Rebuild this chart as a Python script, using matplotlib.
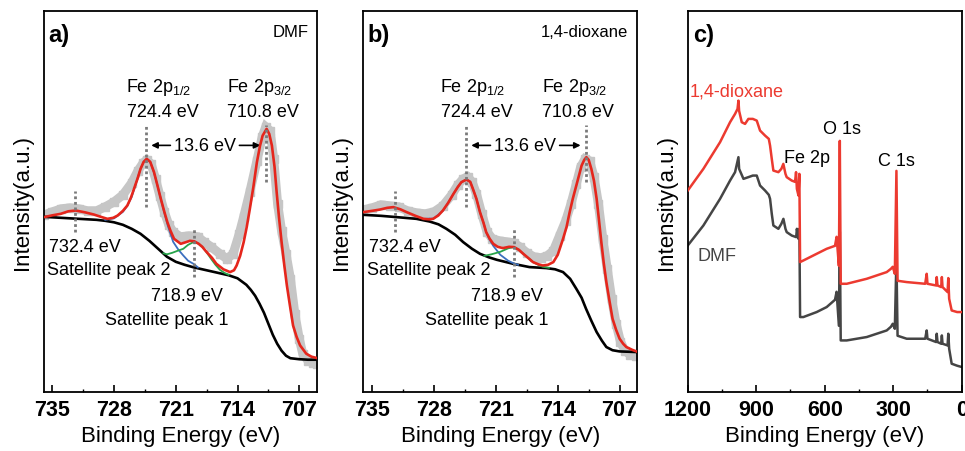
import matplotlib
matplotlib.use('Agg')
import matplotlib.pyplot as plt

plt.rcParams['font.family'] = ['Liberation Sans', 'DejaVu Sans']
plt.rcParams['mathtext.fontset'] = 'custom'
plt.rcParams['mathtext.rm'] = 'Liberation Sans'
plt.rcParams['mathtext.it'] = 'Liberation Sans:italic'
plt.rcParams['mathtext.bf'] = 'Liberation Sans:bold'

# ---------------- data: panel a (DMF, Fe 2p) ----------------
a_raw_e = [735.9, 735.0, 734.0, 733.0, 732.0, 731.0, 730.0, 729.0, 728.0, 727.0, 726.0, 725.3, 724.7,
           724.3, 723.8, 723.3, 722.8, 722.3, 721.8, 721.3, 720.5, 719.5, 718.5, 717.8, 717.0, 716.0,
           715.2, 714.5, 713.8, 713.3, 712.6, 711.8, 711.2, 710.8, 710.3, 709.9, 709.45, 709.0, 708.5,
           708.0, 707.5, 707.0, 706.6, 706.0, 705.4, 705.0]
a_raw_i = [177, 180, 183, 184, 183, 181, 181, 185, 190, 197, 209, 221, 229,
           232, 228, 213, 196, 180, 167, 160, 155, 156, 155, 150, 145, 138,
           133, 138, 158, 175, 200, 231, 255, 265, 261, 233, 188, 161, 138,
           113, 78, 53, 38, 31, 29, 28]
a_bg_e = [736.0, 734.0, 732.0, 730.0, 729.0, 728.0, 727.0, 726.0, 725.0, 724.0, 723.0, 722.0, 721.0,
          720.0, 719.0, 718.0, 717.0, 716.0, 715.0, 714.0, 713.0, 712.5, 712.0, 711.5, 711.0, 710.5,
          710.0, 709.5, 709.0, 708.5, 708.0, 707.0, 706.0, 705.0]
a_bg_i = [175, 174, 173, 172, 171, 169.5, 167, 163, 158, 151, 143, 135, 130,
          127, 124.5, 122.5, 120.5, 118.5, 116.5, 113.5, 107, 102, 96, 88, 79, 68,
          57, 48, 41, 36, 33.5, 32.5, 32, 32]
a_fit_e = [735.94, 735.0, 734.05, 733.2, 732.35, 731.3, 730.3, 729.5, 728.76, 728.1, 727.6, 727.0,
           726.5, 726.1, 725.74, 725.35, 725.0, 724.65, 724.3, 723.9, 723.47, 723.1, 722.7, 722.3,
           721.96, 721.6, 721.2, 720.44, 719.9, 719.4, 718.9, 718.4, 718.0, 717.5, 716.9, 716.4,
           715.6, 714.85, 714.4, 714.1, 713.7, 713.3, 712.95, 712.6, 712.2, 711.8, 711.45, 711.15,
           710.7, 710.4, 710.1, 709.8, 709.56, 709.3, 709.0, 708.7, 708.4, 708.05, 707.7, 707.3,
           706.9, 706.2, 705.6, 705.0]
a_fit_i = [174.7, 176.5, 178, 180.5, 181.3, 179.5, 177.3, 175, 173, 174, 176.3, 181,
           186.3, 194, 203, 213, 223, 230, 233, 230, 219.7, 207, 193, 180,
           169.7, 161, 153, 148, 149.5, 151, 150.5, 148, 145, 139.7, 134, 128,
           122.5, 119.7, 121.5, 126.3, 136, 149.7, 165, 183, 205, 229.7, 246, 256.3,
           263, 258, 246.3, 225, 199.7, 175, 149.7, 127, 106.3, 86, 66.3, 55,
           46.3, 38, 35, 33.7]
a_p12_e = [729.0, 728.0, 727.0, 726.5, 726.0, 725.5, 725.0, 724.6, 724.3, 723.9, 723.5, 723.1, 722.7,
           722.3, 721.9, 721.3, 720.7, 720.15, 719.6, 719.0, 718.5]
a_p12_i = [172, 173.5, 180, 186, 195, 209, 223, 230.5, 233, 230, 220, 207, 193,
           179, 166, 150, 142, 136.3, 131, 128, 124.5]
a_sat1_e = [722.4, 722.0, 721.4, 720.8, 720.15, 719.6, 719.0, 718.5, 718.0, 717.5, 717.0, 716.5,
            716.0, 715.5, 715.0]
a_sat1_i = [138.5, 137.5, 139, 141, 143, 147, 149.7, 148.5, 145, 139.5, 133, 127,
            122, 119, 117]

# ---------------- data: panel b (1,4-dioxane, Fe 2p) ----------------
b_raw_e = [736.0, 735.0, 734.0, 733.0, 732.0, 731.0, 730.0, 729.0, 728.0, 727.0, 726.0, 725.3, 724.7,
           724.2, 723.7, 723.2, 722.6, 722.0, 721.4, 720.6, 719.8, 719.0, 718.3, 717.5, 716.7, 715.9,
           715.2, 714.5, 713.8, 713.1, 712.5, 711.9, 711.4, 710.9, 710.4, 709.9, 709.4, 708.9, 708.4,
           707.9, 707.4, 706.9, 706.4, 705.8, 705.1]
b_raw_i = [182, 184, 187, 186, 185, 181, 179, 178, 180, 186, 197, 207, 213,
           215, 210, 198, 178, 160, 153, 151, 150, 149, 145, 139, 135, 134,
           136, 141, 156, 171, 188, 208, 225, 233, 231, 215, 188, 153, 123,
           93, 68, 50, 41, 37, 36]
b_bg_e = [736.0, 734.0, 732.24, 730.0, 728.5, 727.5, 726.6, 725.6, 724.7, 723.7, 722.8, 721.8, 720.9,
          719.06, 717.2, 715.3, 714.3, 713.4, 712.6, 711.9, 711.3, 710.8, 710.2, 709.6, 709.0, 708.5,
          707.8, 707.0, 705.1]
b_bg_i = [177, 176, 174.7, 173, 170.3, 167.5, 163, 157, 149.7, 143, 138, 134.5, 132,
          128, 124.7, 123.7, 122.5, 119.7, 113, 103, 94, 83, 71, 59.7, 51, 44.7,
          41.5, 40.3, 39.7]
b_fit_e = [736.0, 735.0, 734.1, 733.3, 732.6, 731.8, 731.1, 730.1, 729.2, 728.6, 728.1, 727.5, 727.0,
           726.4, 725.8, 725.3, 724.9, 724.33, 723.9, 723.6, 723.2, 722.8, 722.4, 722.1, 721.7, 721.3,
           720.8, 720.2, 719.5, 718.95, 718.4, 717.9, 717.3, 716.8, 716.2, 715.7, 715.1, 714.5, 714.0,
           713.4, 713.0, 712.65, 712.3, 711.9, 711.3, 711.0, 710.76, 710.5, 710.2, 709.9, 709.6,
           709.35, 709.07, 708.8, 708.5, 708.15, 707.8, 707.4, 707.0, 706.6, 706.24, 705.6, 705.1]
b_fit_i = [179.7, 181, 182.3, 184, 184.7, 182.5, 179.7, 176, 173, 172.5, 173, 176.5, 181.3,
           189, 198, 205, 209.7, 212.3, 210, 203, 193, 179.7, 169, 159.7, 153, 148,
           145, 143.7, 145, 144.7, 142, 138, 133.5, 129.7, 127.5, 126.3, 127, 129.7, 137,
           153, 165, 179.7, 193, 206.3, 226.3, 232, 234.7, 232, 223, 211, 193,
           173, 149.7, 129, 109.7, 91, 73, 62, 53, 48, 44.7, 42, 40.3]
b_p12_e = [729.0, 728.0, 727.0, 726.4, 725.8, 725.3, 724.9, 724.33, 723.9, 723.6, 723.2, 722.8, 722.4,
           722.1, 721.7, 721.3, 720.5, 719.6, 719.0, 718.5]
b_p12_i = [173, 173.5, 181, 189, 198, 205, 209.7, 212.3, 210, 203, 193, 179.7, 169,
           159.7, 152, 146, 137, 131, 128.5, 127]
b_sat1_e = [722.3, 721.5, 720.5, 719.6, 719.0, 718.4, 717.9, 717.3, 716.8, 716.2, 715.7, 715.0]
b_sat1_i = [136, 137.5, 140, 143.5, 144.7, 142, 138, 133.5, 129.7, 127, 125, 124]

# ---------------- data: panel c (survey) ----------------
c_diox_e = [1200, 1131.6, 1058.5, 1014.7, 992.8, 982, 978, 975, 963.5, 949, 934.5, 915, 897.8, 883.3,
            861.4, 845, 839.5, 832, 825, 803, 790, 781.3, 772, 766.6, 744.7, 730, 725.7, 722, 715,
            711.2, 708, 693.7, 635.3, 591.5, 555, 548, 538, 534, 530, 503.6, 416, 328.5, 310,
            302, 293, 286, 281, 241, 160, 153.4, 150, 112, 109.5, 106, 90, 87, 84, 62, 58.8, 55,
            44, 20, 0]
c_diox_i = [201.3, 223, 249.7, 269.7, 278, 283, 291.3, 281, 269.7, 268, 273, 273, 271.3, 261.3,
            256.3, 253, 246.3, 233, 221.3, 219.7, 223, 228, 218, 214.7, 211.3, 210, 219.7, 203, 196.3,
            218, 129.7, 131.3, 138, 143, 146, 155, 126, 251, 108, 108, 113, 119.7, 123,
            125, 118, 221, 111, 109.7, 108, 118, 108, 106.3, 114.7, 106.3, 104.7, 114.7, 104.7, 99.7, 113.7, 93,
            81.3, 79.7, 79.7]
c_dmf_e = [1200, 1131.6, 1058.5, 1014.7, 992.8, 978, 975, 956, 934.5, 915, 897.8, 883.3, 861.4, 845,
           839.5, 832, 825, 803, 790, 781, 772, 766.6, 744.7, 725, 722, 715, 711, 708, 693.7,
           635.3, 591.5, 555, 548, 538, 534, 530, 503.6, 416, 328.5, 310, 302, 293, 286, 281,
           241, 160, 153.4, 150, 112, 109.5, 106, 90, 87, 84, 62, 58.8, 55, 44, 20, 0]
c_dmf_i = [146.3, 166.3, 193, 211.3, 219.7, 234.7, 223, 213, 214.7, 216.3, 216.3, 206.3, 201.3, 197,
           193, 178, 166.3, 163, 168, 173, 163, 159.7, 156.3, 154.7, 163, 153, 163, 74.7, 74.7,
           79.7, 84.7, 92, 100, 66, 160, 51.3, 51.3, 54.7, 61.3, 65, 68, 63, 133, 56,
           53, 53, 61.3, 53, 49.7, 58, 49.7, 48, 56.3, 48, 46.3, 58, 43, 28, 26, 24.7]

xps_ticks = [735, 728, 721, 714, 707]
survey_ticks = [1200, 900, 600, 300, 0]
peak_e = [724.4, 710.8]
sat_e = [732.4, 718.9]

RAW = '#c6c6c6'
FIT = '#e5261c'
BG = '#000000'
BLUE = '#3c6fbf'
GREEN = '#27a34a'
DOT = '#7a7a7a'
RED_S = '#ec3a30'
DMF_S = '#454545'

fig = plt.figure(figsize=(9.65, 4.52), dpi=100)
bottom, height = 0.1312, 0.8423
axA = fig.add_axes([0.0456, bottom, 0.2832, height])
axB = fig.add_axes([0.3765, bottom, 0.2839, height])
axC = fig.add_axes([0.7127, bottom, 0.2839, height])


def style_axis(ax, ticks, minor):
    ax.set_yticks([])
    ax.set_xticks(ticks)
    ax.set_xticks(minor, minor=True)
    ax.tick_params(axis='x', which='major', direction='in', length=5, width=1.2, pad=5,
                   labelsize=15.5)
    ax.tick_params(axis='x', which='minor', direction='in', length=2.5, width=1.0)
    for lab in ax.get_xticklabels():
        lab.set_fontweight('bold')
    for s in ax.spines.values():
        s.set_linewidth(1.3)
    ax.set_xlabel('Binding Energy (eV)', fontsize=16, labelpad=4)
    ax.set_ylabel('Intensity(a.u.)', fontsize=16, labelpad=8)


def xps_panel(ax, raw_e, raw_i, bg_e, bg_i, fit_e, fit_i, p_e, p_i, s_e, s_i, letter, solvent,
              xlim, shift):
    ax.plot(raw_e, raw_i, color=RAW, lw=6.5, marker='s', ms=6, mec=RAW, mfc=RAW,
            solid_joinstyle='miter', zorder=1)
    ax.plot(bg_e, bg_i, color=BG, lw=1.9, zorder=3)
    ax.plot(p_e, p_i, color=BLUE, lw=1.3, zorder=3)
    ax.plot(s_e, s_i, color=GREEN, lw=1.3, zorder=3)
    ax.plot(fit_e, fit_i, color=FIT, lw=1.9, zorder=4)
    # dotted markers
    ax.plot([sat_e[0]] * 2, [160, 201], color=DOT, ls=(0, (1, 1)), lw=2, zorder=5)
    ax.plot([peak_e[0]] * 2, [185, 268], color=DOT, ls=(0, (1, 1)), lw=2, zorder=5)
    ax.plot([sat_e[1]] * 2, [115, 163], color=DOT, ls=(0, (1, 1)), lw=2, zorder=5)
    ax.plot([peak_e[1]] * 2, [210, 267], color=DOT, ls=(0, (1, 1)), lw=2, zorder=5)
    ax.set_xlim(*xlim)
    ax.set_ylim(0, 381)
    style_axis(ax, xps_ticks, [731.5, 724.5, 717.5, 710.5])

    fs = 13
    ax.text(xlim[0] - 0.45 + shift[0], 357, letter, fontsize=17, fontweight='bold', va='center', ha='left')
    ax.text(xlim[1] + 1.0, 360, solvent, fontsize=12, va='center', ha='right')
    ax.text(723.0 + shift[1], 301, r'Fe 2p$\mathregular{_{1/2}}$', fontsize=fs, ha='center', va='baseline')
    ax.text(722.5 + shift[1], 275.7, f'{peak_e[0]} eV', fontsize=fs, ha='center', va='baseline')
    ax.text(711.55 + shift[1], 301, r'Fe 2p$\mathregular{_{3/2}}$', fontsize=fs, ha='center', va='baseline')
    ax.text(711.15 + shift[1], 275.7, f'{peak_e[1]} eV', fontsize=fs, ha='center', va='baseline')
    dE = round(peak_e[0] - peak_e[1], 1)
    ax.text(717.7, 246.5, f'{dE} eV', fontsize=fs, ha='center', va='center')
    ax.annotate('', xy=(724.1, 246.5), xytext=(721.3, 246.5),
                arrowprops=dict(arrowstyle='-|>', color='k', lw=1.2, mutation_scale=9))
    ax.annotate('', xy=(711.1, 246.5), xytext=(714.1, 246.5),
                arrowprops=dict(arrowstyle='-|>', color='k', lw=1.2, mutation_scale=9))
    ax.text(735.4, 140.7, f'{sat_e[0]} eV', fontsize=fs, ha='left', va='baseline')
    ax.text(735.6, 118, 'Satellite peak 2', fontsize=fs, ha='left', va='baseline')
    ax.text(723.85, 92, f'{sat_e[1]} eV', fontsize=fs, ha='left', va='baseline')
    ax.text(729.0, 68, 'Satellite peak 1', fontsize=fs, ha='left', va='baseline')


xps_panel(axA, a_raw_e, a_raw_i, a_bg_e, a_bg_i, a_fit_e, a_fit_i, a_p12_e, a_p12_i,
          a_sat1_e, a_sat1_i, 'a)', 'DMF', (735.95, 704.95), (0, 0))
xps_panel(axB, b_raw_e, b_raw_i, b_bg_e, b_bg_i, b_fit_e, b_fit_i, b_p12_e, b_p12_i,
          b_sat1_e, b_sat1_i, 'b)', '1,4-dioxane', (736.0, 705.0), (0, 0.6))

# panel c
axC.plot(c_dmf_e, c_dmf_i, color=DMF_S, lw=1.8, zorder=2)
axC.plot(c_diox_e, c_diox_i, color=RED_S, lw=1.8, zorder=3)
axC.set_xlim(1200, 0)
axC.set_ylim(0, 381)
style_axis(axC, survey_ticks, [1050, 750, 450, 150])
axC.text(1176, 357, 'c)', fontsize=17, fontweight='bold', va='center', ha='left')
axC.text(1190, 301, '1,4-dioxane', fontsize=13, color=RED_S, va='center', ha='left')
axC.text(1159, 136, 'DMF', fontsize=13, color=DMF_S, va='center', ha='left')
axC.text(778, 234, 'Fe 2p', fontsize=13, va='center', ha='left')
axC.text(607, 263, 'O 1s', fontsize=13, va='center', ha='left')
axC.text(366, 231, 'C 1s', fontsize=13, va='center', ha='left')

fig.savefig('out.png', dpi=100)
